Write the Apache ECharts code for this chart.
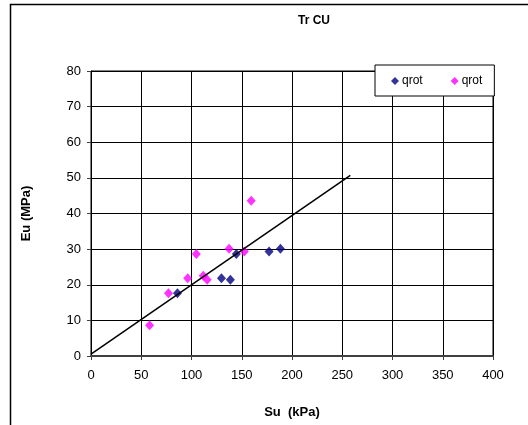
<!DOCTYPE html>
<html>
<head>
<meta charset="utf-8">
<script src="https://cdn.jsdelivr.net/npm/echarts@6/dist/echarts.min.js"></script>
<style>html,body{margin:0;padding:0;background:#fff;}#c{width:528px;height:425px;}</style>
</head>
<body>
<div id="c"></div>
<script>
const titleText = 'Tr CU';
const xName = 'Su  (kPa)';
const yName = 'Eu (MPa)';
const seriesNames = ['qrot', 'qrot'];
const blueSu = [86, 129.8, 138.7, 144.6, 177.2, 188.5];
const blueEu = [17.6, 21.8, 21.4, 28.6, 29.3, 30.1];
const pinkSu = [58.3, 77.1, 96.2, 104.8, 111.7, 115.6, 137.4, 152.5, 159.4];
const pinkEu = [8.65, 17.6, 21.8, 28.6, 22.5, 21.4, 30.1, 29.3, 43.6];
const trendSu = [0, 258];
const trendEu = [0.5, 50.7];
const xTicks = [0, 400, 50];
const yTicks = [0, 80, 10];

const zip = (a, b) => a.map((v, i) => [v, b[i]]);
const font = 'Liberation Sans, Arial, sans-serif';
const chart = echarts.init(document.getElementById('c'));
chart.setOption({
  animation: false,
  backgroundColor: '#fff',
  title: {
    text: titleText, left: 309, top: 10, textAlign: 'center',
    textStyle: {fontFamily: font, fontSize: 12, fontWeight: 'bold', color: '#000'}
  },
  legend: {
    left: 375, top: 65,
    orient: 'horizontal',
    padding: [10, 12, 9, 16],
    itemGap: 28,
    itemWidth: 8, itemHeight: 8,
    backgroundColor: '#fff',
    borderColor: '#000', borderWidth: 1,
    textStyle: {fontFamily: font, fontSize: 12, color: '#000', padding: [0, 0, 0, -2]},
    data: [
      {name: 'a', icon: 'diamond', itemStyle: {color: '#000080'}},
      {name: 'b', icon: 'diamond', itemStyle: {color: '#FF00FF'}}
    ],
    formatter: n => n === 'a' ? seriesNames[0] : seriesNames[1]
  },
  grid: {left: 91, right: 35, top: 71, bottom: 69, show: true, borderColor: '#000', borderWidth: 1},
  xAxis: {
    type: 'value', min: xTicks[0], max: xTicks[1], interval: xTicks[2],
    name: xName, nameLocation: 'middle', nameGap: 50,
    nameTextStyle: {fontFamily: font, fontSize: 13, fontWeight: 'bold', color: '#000'},
    axisLine: {show: true, onZero: false, lineStyle: {color: '#404040', width: 2}},
    axisTick: {show: true, length: 4, lineStyle: {color: '#404040'}},
    axisLabel: {fontFamily: font, fontSize: 13, color: '#000', margin: 13},
    splitLine: {show: true, lineStyle: {color: '#000', width: 1}}
  },
  yAxis: {
    type: 'value', min: yTicks[0], max: yTicks[1], interval: yTicks[2],
    name: yName, nameLocation: 'middle', nameGap: 58, nameRotate: 90,
    nameTextStyle: {fontFamily: font, fontSize: 13, fontWeight: 'bold', color: '#000'},
    axisLine: {show: true, lineStyle: {color: '#000', width: 1}},
    axisTick: {show: true, length: 4, lineStyle: {color: '#404040'}},
    axisLabel: {fontFamily: font, fontSize: 13, color: '#000', margin: 10},
    splitLine: {show: true, lineStyle: {color: '#000', width: 1}}
  },
  series: [
    {name: 'a', type: 'scatter', symbol: 'diamond', symbolSize: [9, 10],
     itemStyle: {color: '#000080'}, data: zip(blueSu, blueEu), z: 3},
    {name: 'b', type: 'scatter', symbol: 'diamond', symbolSize: [9, 10],
     itemStyle: {color: '#FF00FF'}, data: zip(pinkSu, pinkEu), z: 3},
    {name: 'trend', type: 'line', symbol: 'none', data: zip(trendSu, trendEu),
     lineStyle: {color: '#000', width: 1.5}, z: 4}
  ],
  graphic: [{
    type: 'rect', shape: {x: 10.5, y: 4.5, width: 600, height: 500},
    style: {fill: null, stroke: '#000', lineWidth: 1.5}, silent: true
  }]
});
</script>
</body>
</html>
